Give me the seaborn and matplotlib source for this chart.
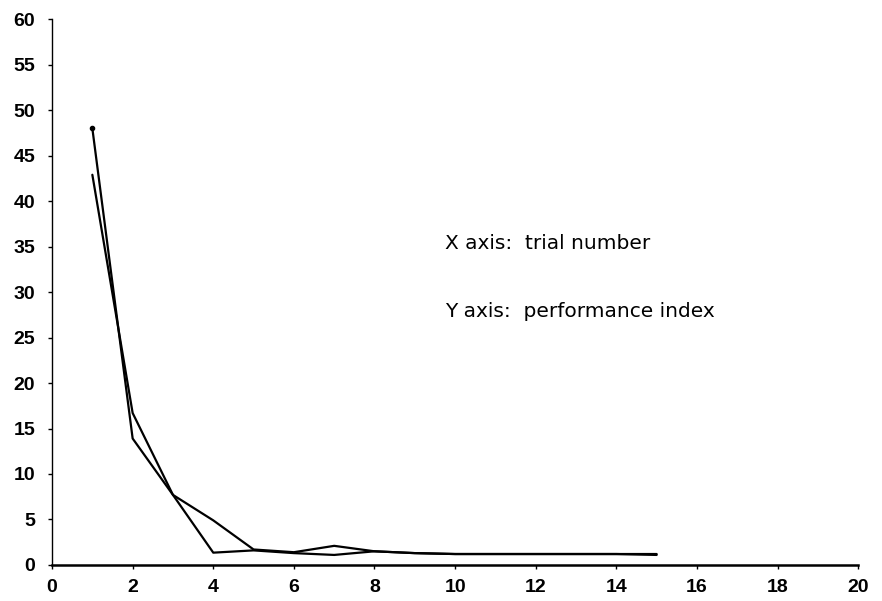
import matplotlib
matplotlib.use("Agg")
import matplotlib.pyplot as plt
import numpy as np
import pandas as pd
import seaborn as sns

# Trial-by-trial performance index for two runs
trials = list(range(1, 16))
run_a = [48.0, 13.9, 7.7, 4.9, 1.7, 1.4, 2.1, 1.5, 1.3, 1.2, 1.2, 1.2, 1.2, 1.2, 1.2]
run_b = [42.9, 16.7, 7.7, 1.35, 1.6, 1.3, 1.1, 1.5, 1.3, 1.2, 1.2, 1.2, 1.2, 1.2, 1.1]

x_ticks = list(range(0, 21, 2))
y_ticks = list(range(0, 61, 5))

df = pd.DataFrame({
    "trial": trials * 2,
    "index": run_a + run_b,
    "run": ["A"] * len(trials) + ["B"] * len(trials),
})

sns.set_style("ticks")
plt.rcParams["font.family"] = ["Liberation Sans", "DejaVu Sans"]
plt.rcParams["text.color"] = "black"

fig = plt.figure(figsize=(8.82, 6.01), dpi=100)
ax = fig.add_axes([0.059, 0.06, 0.914, 0.908])

sns.lineplot(data=df, x="trial", y="index", hue="run",
             palette={"A": "black", "B": "black"}, linewidth=1.6,
             legend=False, ax=ax, estimator=None)
# small dot at the first recorded value of run A
ax.plot(trials[:1], run_a[:1], marker="o", markersize=3, color="black", linestyle="none")

ax.set_xlim(0, 20)
ax.set_ylim(0, 60)
ax.set_xticks(x_ticks)
ax.set_yticks(y_ticks)
ax.set_xlabel("")
ax.set_ylabel("")

for lab in ax.get_xticklabels() + ax.get_yticklabels():
    lab.set_fontsize(14)
    lab.set_fontweight("bold")

ax.tick_params(axis="both", direction="out", length=3, width=1, colors="black")
ax.tick_params(axis="y", pad=9)
ax.tick_params(axis="x", pad=7)
sns.despine(ax=ax)
ax.spines["left"].set_linewidth(1.0)
ax.spines["bottom"].set_linewidth(1.8)
ax.spines["left"].set_color("black")
ax.spines["bottom"].set_color("black")

ax.text(9.75, 34.7, "X axis:  trial number", fontsize=14.5, va="baseline", ha="left",
        family=["DejaVu Sans"], color="black")
ax.text(9.75, 27.3, "Y axis:  performance index", fontsize=14.5, va="baseline", ha="left",
        family=["DejaVu Sans"], color="black")

fig.savefig("out.png", dpi=100, facecolor="white")
